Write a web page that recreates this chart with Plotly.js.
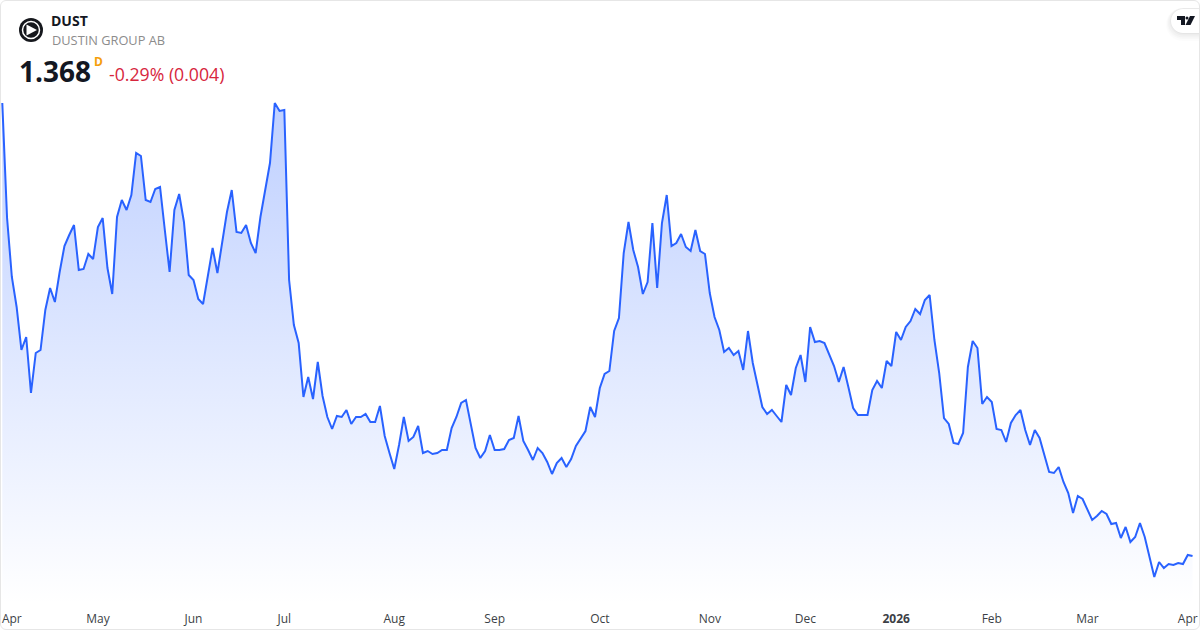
<!DOCTYPE html>
<html>
<head>
<meta charset="utf-8">
<script src="https://cdn.plot.ly/plotly-3.0.1.min.js"></script>
<style>
html,body{margin:0;padding:0;background:#fff;width:1200px;height:630px;overflow:hidden}
#chart{position:absolute;left:0;top:0;width:1200px;height:630px}
#card{position:absolute;left:0;top:0;width:1200px;height:630px;box-sizing:border-box;border:1px solid #e6e6e6;border-radius:6px;pointer-events:none}
</style>
</head>
<body>
<div id="chart"></div>
<div id="card"></div>
<script>
var ticker = "DUST";
var company = "DUSTIN GROUP AB";
var lastPrice = "1.368";
var interval = "D";
var changeText = "-0.29% (0.004)";

var closes = [
3.633,3.058,2.763,2.613,2.398,2.463,2.183,2.383,2.398,2.598,2.708,2.638,2.788,2.918,2.973,3.023,2.798,2.803,2.878,2.853,
3.013,3.058,2.808,2.678,3.063,3.148,3.098,3.173,3.383,3.368,3.148,3.138,3.203,3.213,2.998,2.788,3.098,3.178,3.038,2.773,
2.748,2.653,2.628,2.763,2.908,2.783,2.938,3.088,3.198,2.988,2.983,3.023,2.933,2.883,3.063,3.198,3.333,3.633,3.593,3.598,
2.748,2.523,2.433,2.163,2.263,2.153,2.338,2.168,2.063,2.003,2.068,2.063,2.098,2.028,2.063,2.063,2.078,2.038,2.038,2.118,
1.968,1.883,1.803,1.923,2.063,1.943,1.963,2.018,1.883,1.893,1.878,1.883,1.898,1.898,2.008,2.063,2.133,2.148,2.033,1.908,
1.858,1.893,1.973,1.898,1.898,1.903,1.948,1.958,2.068,1.943,1.898,1.848,1.908,1.883,1.838,1.778,1.833,1.858,1.813,1.853,
1.918,1.958,1.993,2.113,2.063,2.208,2.278,2.293,2.493,2.558,2.883,3.038,2.898,2.813,2.678,2.738,3.033,2.708,3.033,3.173,
2.918,2.933,2.978,2.913,2.893,2.998,2.893,2.878,2.683,2.563,2.498,2.388,2.408,2.373,2.393,2.298,2.493,2.333,2.223,2.113,
2.078,2.098,2.068,2.038,2.223,2.173,2.308,2.373,2.238,2.513,2.438,2.443,2.433,2.373,2.318,2.238,2.313,2.213,2.108,2.073,
2.073,2.073,2.198,2.243,2.208,2.343,2.318,2.488,2.448,2.513,2.543,2.603,2.578,2.648,2.673,2.448,2.283,2.058,2.028,1.933,
1.928,1.983,2.313,2.443,2.408,2.128,2.163,2.138,2.003,1.998,1.938,2.033,2.073,2.098,1.998,1.923,1.998,1.958,1.873,1.788,
1.783,1.813,1.738,1.683,1.583,1.668,1.653,1.603,1.548,1.568,1.593,1.578,1.528,1.533,1.458,1.513,1.438,1.463,1.533,1.463,
1.358,1.263,1.338,1.308,1.328,1.323,1.333,1.328,1.373,1.368
];
var tickIndex = [2,20,40,59,82,103,125,148,168,187,207,227,248];
var tickLabels = ["Apr","May","Jun","Jul","Aug","Sep","Oct","Nov","Dec","<b>2026</b>","Feb","Mar","Apr"];
var sessions = closes.map(function(_, i){ return i; });

var W = 1200, PLOT_H = 604;
function px(x){ return x / W; }
function py(y){ return (PLOT_H - y) / PLOT_H; }
function P(x, y){ return px(x) + "," + py(y); }
var FONT = '"Open Sans","Noto Sans",sans-serif';

var trace = {
  type: "scatter", mode: "lines", x: sessions, y: closes,
  line: {color: "#2962ff", width: 2, shape: "linear"},
  fill: "tozeroy",
  fillgradient: {
    type: "vertical",
    start: 3.633, stop: 1.128,
    colorscale: [[0, "rgba(41,98,255,0.30)"], [1, "rgba(41,98,255,0)"]]
  },
  hoverinfo: "skip"
};

function note(text, x, y, size, color, weight){
  return {text: text, xref: "paper", yref: "paper", x: px(x), y: py(y), xanchor: "left", yanchor: "middle",
    showarrow: false, borderpad: 0, font: {family: FONT, size: size, color: color, weight: weight || 400}};
}
function pill(left, top, bottom, fill){
  var r = (bottom - top) / 2, mid = (top + bottom) / 2;
  return {type: "path", xref: "paper", yref: "paper",
    path: "M" + P(1200, top) + " L" + P(left + r, top) +
      " C" + P(left + r * 0.45, top) + " " + P(left, mid - r * 0.55) + " " + P(left, mid) +
      " C" + P(left, mid + r * 0.55) + " " + P(left + r * 0.45, bottom) + " " + P(left + r, bottom) +
      " L" + P(1200, bottom) + " Z",
    fillcolor: fill, line: {width: 0}};
}

var layout = {
  width: 1200, height: 630,
  margin: {l: 0, r: 0, t: 0, b: 26, pad: 0},
  paper_bgcolor: "#ffffff", plot_bgcolor: "#ffffff",
  showlegend: false,
  xaxis: {
    range: [-0.48, 250.56], fixedrange: true, showgrid: false, zeroline: false, showline: false,
    tickmode: "array", tickvals: tickIndex, ticktext: tickLabels, ticks: "", ticklen: 0,
    ticklabelstandoff: 6,
    tickangle: 0, tickfont: {family: FONT, size: 12, color: "#3c3f46"}
  },
  yaxis: {
    range: [1.128, 4.148], fixedrange: true, showgrid: false, zeroline: false, showline: false,
    showticklabels: false, ticks: ""
  },
  annotations: [
    note(ticker, 50, 20.5, 14, "#131722", 700),
    note(company, 50.5, 40, 12.8, "#8c8c8c", 400),
    note(lastPrice, 18, 71, 28, "#131722", 700),
    note(interval, 92.5, 61, 12, "#f59e0b", 700),
    note(changeText, 107.5, 74, 17.7, "#d7263d", 400)
  ],
  shapes: [
    {type: "circle", xref: "paper", yref: "paper", x0: px(19), x1: px(43), y0: py(42), y1: py(18), fillcolor: "#16181d", line: {width: 0}},
    {type: "circle", xref: "paper", yref: "paper", x0: px(22.5), x1: px(39.5), y0: py(38.5), y1: py(21.5), fillcolor: "rgba(0,0,0,0)", line: {color: "#ffffff", width: 1.5}},
    {type: "path", xref: "paper", yref: "paper", path: "M" + P(26.5, 24.5) + " L" + P(37, 30) + " L" + P(26.5, 35.5) + " Z", fillcolor: "#ffffff", line: {width: 0}},
    pill(1166, 8, 41, "rgba(0,0,0,0.012)"),
    pill(1167, 8, 39, "rgba(0,0,0,0.015)"),
    pill(1168, 8, 37.5, "rgba(0,0,0,0.02)"),
    pill(1169.5, 8, 35.5, "rgba(0,0,0,0.025)"),
    pill(1170.5, 8.5, 34, "rgba(0,0,0,0.03)"),
    pill(1171, 9, 33, "#ffffff"),
    {type: "path", xref: "paper", yref: "paper", path: "M" + P(1177, 16) + " L" + P(1185, 16) + " L" + P(1185, 25) + " L" + P(1181, 25) + " L" + P(1181, 20) + " L" + P(1177, 20) + " Z", fillcolor: "#131722", line: {width: 0}},
    {type: "circle", xref: "paper", yref: "paper", x0: px(1185.5), x1: px(1188.5), y0: py(19.5), y1: py(16.5), fillcolor: "#131722", line: {width: 0}},
    {type: "path", xref: "paper", yref: "paper", path: "M" + P(1190, 16) + " L" + P(1195, 16) + " L" + P(1190.5, 25) + " L" + P(1185.5, 25) + " Z", fillcolor: "#131722", line: {width: 0}}
  ]
};

Plotly.newPlot("chart", [trace], layout, {displayModeBar: false, staticPlot: true, responsive: false});
</script>
</body>
</html>
